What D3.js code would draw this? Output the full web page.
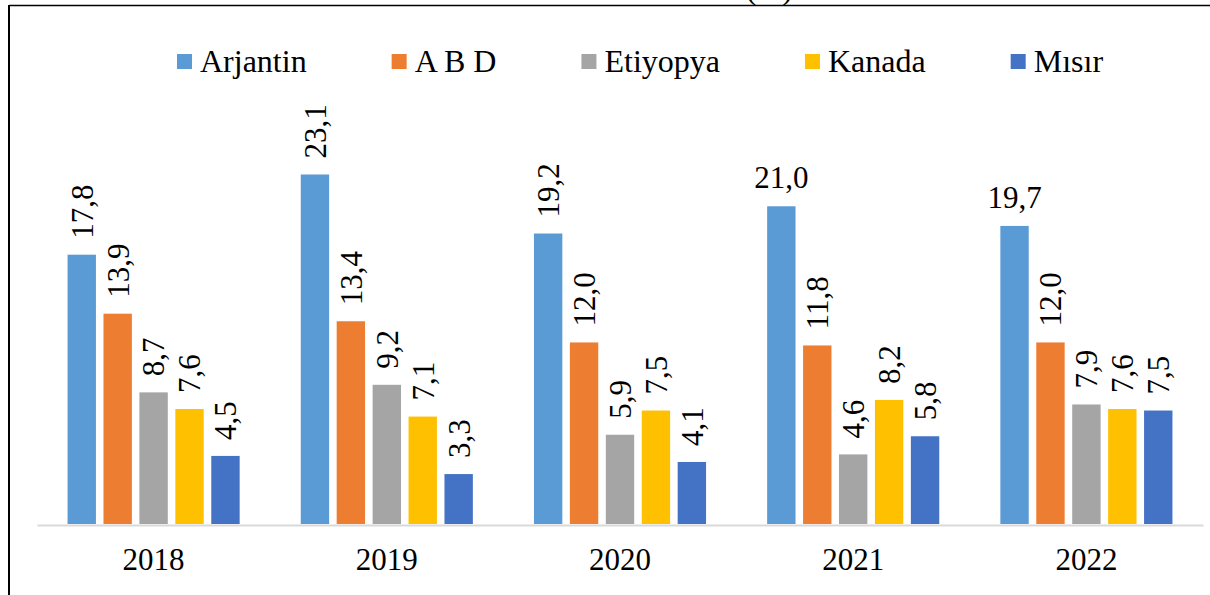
<!DOCTYPE html>
<html>
<head>
<meta charset="utf-8">
<script src="https://cdn.jsdelivr.net/npm/d3@7"></script>
<style>
	body { margin: 0; background: #ffffff; }
	svg { display: block; }
	svg text { font-family: 'Liberation Serif', 'Times New Roman', Times, serif; fill: #000000; }
</style>
</head>
<body>
<div id="chart"></div>
<script>
(function(){
	var years = ["2018", "2019", "2020", "2021", "2022"];
	var series = ["Arjantin", "A B D", "Etiyopya", "Kanada", "Mısır"];
	var colors = ["#5B9BD5", "#ED7D31", "#A5A5A5", "#FFC000", "#4472C4"];

	// values per series, one entry per year
	var arjantin = [17.8, 23.1, 19.2, 21.0, 19.7];
	var abd = [13.9, 13.4, 12.0, 11.8, 12.0];
	var etiyopya = [8.7, 9.2, 5.9, 4.6, 7.9];
	var kanada = [7.6, 7.1, 7.5, 8.2, 7.6];
	var misir = [4.5, 3.3, 4.1, 5.8, 7.5];
	var values = [arjantin, abd, etiyopya, kanada, misir];

	// labels that sit flat above the bar instead of turned
	var flat_labels = ["Arjantin|2021", "Arjantin|2022"];

	var width = 1210, height = 595;
	var serif = "'Liberation Serif', 'Times New Roman', Times, serif";

	var svg = d3.select("#chart").append("svg")
		.attr("width", width)
		.attr("height", height)
		.style("font-family", serif);

	// title cut by the frame, only its lower part shows
	svg.append("text")
		.attr("x", 746)
		.attr("y", -1)
		.style("font-family", serif)
		.attr("font-size", "31px")
		.text("(%)");

	// frame
	svg.append("rect")
		.attr("x", 0).attr("y", 0)
		.attr("width", width).attr("height", 5)
		.attr("fill", "#ffffff")
		.attr("fill-opacity", 0);
	svg.append("line")
		.attr("x1", 9).attr("x2", width)
		.attr("y1", 5.5).attr("y2", 5.5)
		.attr("stroke", "#000000")
		.attr("stroke-width", 1.5);
	svg.append("line")
		.attr("x1", 9).attr("x2", 9)
		.attr("y1", 5).attr("y2", height)
		.attr("stroke", "#000000")
		.attr("stroke-width", 2);

	var x0 = d3.scaleBand()
		.domain(years)
		.range([37, 1203])
		.paddingInner(0.262)
		.paddingOuter(0.131);

	var x1 = d3.scaleBand()
		.domain(series)
		.range([0, x0.bandwidth()])
		.paddingInner(0.21)
		.paddingOuter(0);

	var y = d3.scaleLinear()
		.domain([0, 25])
		.range([524, 524 - 25 * 15.13]);

	var rows = [];
	for (var s = 0; s < series.length; s++){
		for (var i = 0; i < years.length; i++){
			rows.push({series: series[s], year: years[i], value: values[s][i], color: colors[s]});
		}
	}

	var bars = svg.append("g").attr("class", "bars");

	bars.selectAll("rect")
		.data(rows)
		.enter().append("rect")
		.attr("x", function(d){ return x0(d.year) + x1(d.series); })
		.attr("y", function(d){ return y(d.value); })
		.attr("width", x1.bandwidth())
		.attr("height", function(d){ return y(0) - y(d.value); })
		.attr("fill", function(d){ return d.color; });

	// category axis, only the light base line and the year labels
	var xAxis = svg.append("g")
		.attr("transform", "translate(0," + y(0) + ")")
		.call(d3.axisBottom(x0).tickSize(0).tickPadding(24));
	xAxis.attr("font-family", null).attr("font-size", null);
	xAxis.select(".domain")
		.attr("stroke", "#D9D9D9")
		.attr("stroke-width", 2)
		.attr("transform", "translate(0,1)");
	xAxis.selectAll("text")
		.style("font-family", serif)
		.attr("font-size", "31px")
		.attr("fill", "#000000")
		.attr("dy", "0.71em");

	var fmt = function(v){ return d3.format(".1f")(v).replace(".", ","); };

	var labels = svg.append("g").attr("class", "labels");

	labels.selectAll("text")
		.data(rows)
		.enter().append("text")
		.style("font-family", serif)
		.attr("font-size", "31px")
		.attr("transform", function(d){
			var cx = x0(d.year) + x1(d.series) + x1.bandwidth() / 2;
			if (flat_labels.indexOf(d.series + "|" + d.year) >= 0){
				return "translate(" + cx + "," + (y(d.value) - 18) + ")";
			}
			return "translate(" + cx + "," + (y(d.value) - 16) + ") rotate(-90)";
		})
		.attr("text-anchor", function(d){
			return flat_labels.indexOf(d.series + "|" + d.year) >= 0 ? "middle" : "start";
		})
		.attr("dy", function(d){
			return flat_labels.indexOf(d.series + "|" + d.year) >= 0 ? 0 : "0.35em";
		})
		.text(function(d){ return fmt(d.value); });

	// legend, laid out left to right from the measured text widths
	var legend = svg.append("g").attr("class", "legend");
	var lx = 177;
	for (var k = 0; k < series.length; k++){
		legend.append("rect")
			.attr("x", lx)
			.attr("y", 54)
			.attr("width", 15)
			.attr("height", 15)
			.attr("fill", colors[k]);
		var t = legend.append("text")
			.attr("x", lx + 23)
			.attr("y", 72)
			.style("font-family", serif)
			.attr("font-size", "32px")
			.text(series[k]);
		lx = lx + 23 + t.node().getComputedTextLength() + 85;
	}
})();
</script>
</body>
</html>
